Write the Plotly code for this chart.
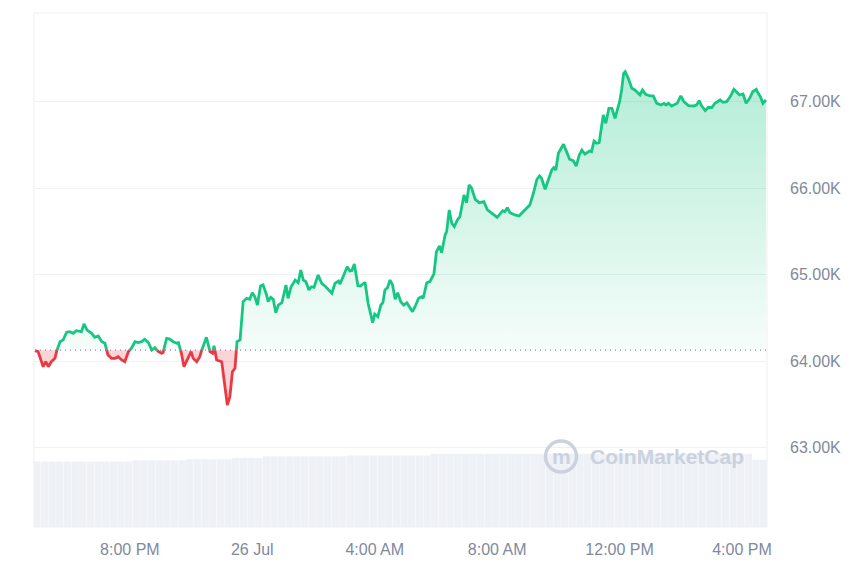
import datetime as dt
import numpy as np
import plotly.graph_objects as go

# ---------------- data ----------------
START = dt.datetime(2024, 7, 25, 16, 50)
BASELINE = 64125  # price 24h ago (dotted reference line)

minutes = [4, 10, 20, 25, 30, 36, 43, 46, 53, 59, 66, 72, 79, 85, 92, 95, 100, 106, 115, 121,
           128, 135, 141, 147, 154, 161, 167, 174, 180, 187, 193, 200, 206, 213, 219, 226, 233, 239, 246, 252,
           255, 262, 268, 275, 282, 285, 291, 296, 302, 310, 314, 321, 327, 334, 340, 347, 352, 355, 360, 370,
           376, 381, 386, 391, 396, 400, 406, 412,
           419, 425, 430, 435, 440, 446, 451, 458, 461, 466, 471, 476, 481, 488, 496, 500, 506, 514, 520, 525,
           530, 535, 541, 546, 551, 559, 566, 574, 586, 592, 599, 602, 612, 616, 621, 625, 630, 637, 642, 651,
           657, 666, 670, 676, 682, 686, 690, 695, 700, 705, 710, 715, 721, 727, 733, 739, 744, 749, 756, 762,
           765, 772, 778, 786, 791, 797, 801, 808, 811, 816, 821, 826, 832, 837, 845, 850, 855, 860, 867, 875,
           884, 891, 899, 910, 921, 925, 930, 935, 945, 953, 958, 963, 969, 974, 981, 988, 993, 997, 1004, 1010,
           1017, 1021, 1025, 1030, 1040, 1046, 1052, 1059, 1065, 1071, 1076, 1082, 1091, 1095, 1100, 1105, 1110,
           1118, 1123, 1129, 1135, 1141, 1146, 1150, 1154, 1158, 1161, 1167, 1174, 1180, 1190, 1195, 1201, 1210,
           1216, 1223, 1231, 1237, 1241, 1246, 1252, 1263, 1270, 1276, 1285, 1295, 1301, 1306, 1311, 1318, 1324,
           1331, 1337, 1347, 1353, 1360, 1367, 1374, 1380, 1385, 1392, 1398, 1405, 1411, 1418, 1420, 1426, 1431,
           1437]

prices = [64119, 64108, 63934, 63992, 63934, 63992, 64031, 64108, 64223, 64243, 64332, 64339, 64320, 64350,
          64347, 64339, 64428, 64358, 64320, 64274, 64289, 64223, 64205, 64069, 64031, 64031, 64050, 64012,
          63992, 64108, 64147, 64223, 64212, 64223, 64251, 64216, 64127, 64154, 64108, 64089, 64096, 64262,
          64254, 64223, 64205, 64212, 64089, 63934, 64012, 64108, 64031, 63992, 64050, 64185, 64274, 64108,
          64089, 64177, 64012, 63992, 63742, 63491, 63587, 63876, 63916, 64223, 64243, 64686,
          64725, 64713, 64790, 64743, 64647, 64867, 64879, 64763, 64686, 64736, 64713, 64558, 64647, 64674,
          64879, 64725, 64859, 64936, 64905, 65052, 64936, 64917, 64821, 64859, 64852, 64994, 64898, 64859,
          64783, 64898, 64925, 64890, 65032, 65090, 65040, 65044, 65121, 64871, 64867, 64910, 64667, 64443,
          64543, 64512, 64647, 64674, 64821, 64847, 64936, 64879, 64713, 64790, 64686, 64647, 64674, 64609,
          64570, 64628, 64725, 64743, 64725, 64905, 64917, 65006, 65264, 65330, 65252, 65457, 65495, 65746,
          65592, 65553, 65630, 65668, 65919, 65830, 66035, 65997, 65869, 65830, 65842, 65746, 65714, 65661,
          65738, 65726, 65772, 65714, 65688, 65676, 65708, 65738, 65765, 65803, 65939, 66101, 66139, 66112,
          65985, 66093, 66208, 66235, 66208, 66401, 66505, 66420, 66332, 66316, 66254, 66382, 66439, 66393,
          66428, 66420, 66543, 66517, 66524, 66844, 66748, 66921, 66921, 66806, 66921, 66998, 67133, 67326,
          67345, 67268, 67153, 67133, 67075, 67133, 67083, 67064, 67064, 66979, 66960, 66979, 66960, 66979,
          66948, 66979, 67064, 66998, 66952, 66948, 66960, 67009, 66948, 66894, 66933, 66929, 66979, 67017,
          66991, 66998, 67056, 67141, 67106, 67075, 67087, 66979, 67037, 67113, 67141, 67113, 67056, 66979,
          67017]

# rolling 24h volume (billions USD), one value per 15-minute bar
volume = [30.6, 30.6, 30.6, 30.6, 30.6, 30.6, 30.6, 30.6, 30.6, 30.6, 30.6, 30.6, 30.6,
          31.1, 31.1, 31.1, 31.1, 31.1, 31.1, 31.1,
          31.7, 31.7, 31.7, 31.7, 31.7, 31.7,
          32.3, 32.3, 32.3, 32.3,
          33.0, 33.0, 33.0, 33.0, 33.0, 33.0, 33.0, 33.0, 33.0, 33.0, 33.0,
          33.4, 33.4, 33.4, 33.4, 33.4, 33.4, 33.4, 33.4, 33.4, 33.4, 33.4,
          34.2, 34.2, 34.2, 34.2, 34.2, 34.2, 34.2, 34.2, 34.2, 34.2, 34.2, 34.2, 34.2, 34.2,
          34.2, 34.2, 34.2, 34.2, 34.2, 34.2, 34.2, 34.2, 34.2, 34.2, 34.2, 34.2, 34.2, 34.2,
          34.2, 34.2, 34.2, 34.2, 34.2, 34.2, 34.2, 34.2, 34.2, 34.2, 34.2, 34.2, 34.2, 34.2,
          31.4, 31.4]

tick_vals = ["2024-07-25 20:00", "2024-07-26 00:00", "2024-07-26 04:00",
             "2024-07-26 08:00", "2024-07-26 12:00", "2024-07-26 16:00"]
tick_text = ["8:00 PM", "26 Jul", "4:00 AM", "8:00 AM", "12:00 PM", "4:00 PM"]
price_ticks = [63000, 64000, 65000, 66000, 67000]
price_tick_text = ["63.00K", "64.00K", "65.00K", "66.00K", "67.00K"]

assert len(minutes) == len(prices), (len(minutes), len(prices))
assert len(volume) == 96, len(volume)

GREEN = "#16c784"
RED = "#ea3943"
AXIS_TXT = "#808a9d"
WM = "#cbd2de"

# ---------------- geometry helpers ----------------
# add baseline crossings so red / green segments meet exactly at the reference line
t_aug, p_aug = [], []
for i in range(len(minutes)):
    if i > 0:
        a, b = prices[i - 1] - BASELINE, prices[i] - BASELINE
        if a * b < 0:
            f = a / (a - b)
            t_aug.append(minutes[i - 1] + f * (minutes[i] - minutes[i - 1]))
            p_aug.append(BASELINE)
    t_aug.append(minutes[i])
    p_aug.append(prices[i])

t_aug = np.array(t_aug, dtype=float)
p_aug = np.array(p_aug, dtype=float)
times = [START + dt.timedelta(minutes=float(m)) for m in t_aug]

up = np.maximum(p_aug, BASELINE)
down = np.minimum(p_aug, BASELINE)
green_line = [v if v >= BASELINE else None for v in p_aug]
red_line = [v if v <= BASELINE else None for v in p_aug]
base_arr = [BASELINE] * len(p_aug)

vol_times = [START + dt.timedelta(minutes=15 * i + 7.5) for i in range(len(volume))]

fig = go.Figure()

fig.add_trace(go.Scatter(x=times, y=base_arr, mode="lines", line=dict(width=0),
                         showlegend=False, hoverinfo="skip"))
fig.add_trace(go.Scatter(x=times, y=up, mode="lines", line=dict(width=0), fill="tonexty",
                         fillgradient=dict(type="vertical",
                                           colorscale=[[0, "rgba(22,199,132,0.04)"],
                                                       [1, "rgba(22,199,132,0.33)"]],
                                           start=BASELINE, stop=max(prices)),
                         showlegend=False, hoverinfo="skip"))
fig.add_trace(go.Scatter(x=times, y=base_arr, mode="lines", line=dict(width=0),
                         showlegend=False, hoverinfo="skip"))
fig.add_trace(go.Scatter(x=times, y=down, mode="lines", line=dict(width=0), fill="tonexty",
                         fillcolor="rgba(234,57,67,0.22)",
                         showlegend=False, hoverinfo="skip"))
fig.add_trace(go.Scatter(x=times, y=green_line, mode="lines",
                         line=dict(color=GREEN, width=2.8), connectgaps=False,
                         showlegend=False, hoverinfo="skip"))
fig.add_trace(go.Scatter(x=times, y=red_line, mode="lines",
                         line=dict(color=RED, width=2.8), connectgaps=False,
                         showlegend=False, hoverinfo="skip"))
fig.add_trace(go.Bar(x=vol_times, y=volume, yaxis="y2", marker=dict(color="#eef1f5", line=dict(width=0)),
                     showlegend=False, hoverinfo="skip"))

fig.add_shape(type="line", xref="x", yref="y", x0=times[0], x1=times[-1], y0=BASELINE, y1=BASELINE,
              line=dict(color="#7f8899", width=1.2, dash="1px,4px"))
fig.add_shape(type="rect", xref="paper", yref="paper", x0=0, x1=1, y0=0, y1=1,
              line=dict(color="#eceff3", width=1), layer="below")

# watermark
fig.add_shape(type="circle", xref="paper", yref="paper", xsizemode="pixel", ysizemode="pixel",
              xanchor=0.719, yanchor=0.137, x0=-15.5, x1=15.5, y0=-15.5, y1=15.5,
              line=dict(color=WM, width=3.5))
fig.add_annotation(xref="paper", yref="paper", x=0.719, y=0.137, text="<b>m</b>", showarrow=False,
                   font=dict(family="Liberation Sans, Arial", size=21, color=WM),
                   xanchor="center", yanchor="middle")
fig.add_annotation(xref="paper", yref="paper", x=0.864, y=0.137, text="<b>CoinMarketCap</b>",
                   showarrow=False, xanchor="center", yanchor="middle",
                   font=dict(family="Liberation Sans, Arial", size=21, color=WM))

# page body has an 8px margin, so the figure is sized 852x565 to fill the 860x573 window
fig.update_layout(
    width=852, height=565,
    margin=dict(l=26, r=93, t=5, b=46),
    paper_bgcolor="white", plot_bgcolor="white",
    bargap=0.04,
    font=dict(family="Liberation Sans, Arial, sans-serif", size=16, color=AXIS_TXT),
    xaxis=dict(type="date", range=["2024-07-25 16:52", "2024-07-26 16:49"],
               tickvals=tick_vals, ticktext=tick_text, showgrid=False, zeroline=False,
               showline=False, ticks="", ticklabelstandoff=11,
               tickfont=dict(size=16, color=AXIS_TXT)),
    yaxis=dict(side="right", range=[62081, 68023], tickvals=price_ticks, ticktext=price_tick_text,
               showgrid=True, gridcolor="#eff1f4", gridwidth=1, zeroline=False, showline=False,
               ticks="", ticklabelstandoff=22, tickfont=dict(size=16, color=AXIS_TXT)),
    yaxis2=dict(overlaying="y", range=[0, 240], visible=False, showgrid=False),
    showlegend=False,
)

fig.write_html("out.html")
